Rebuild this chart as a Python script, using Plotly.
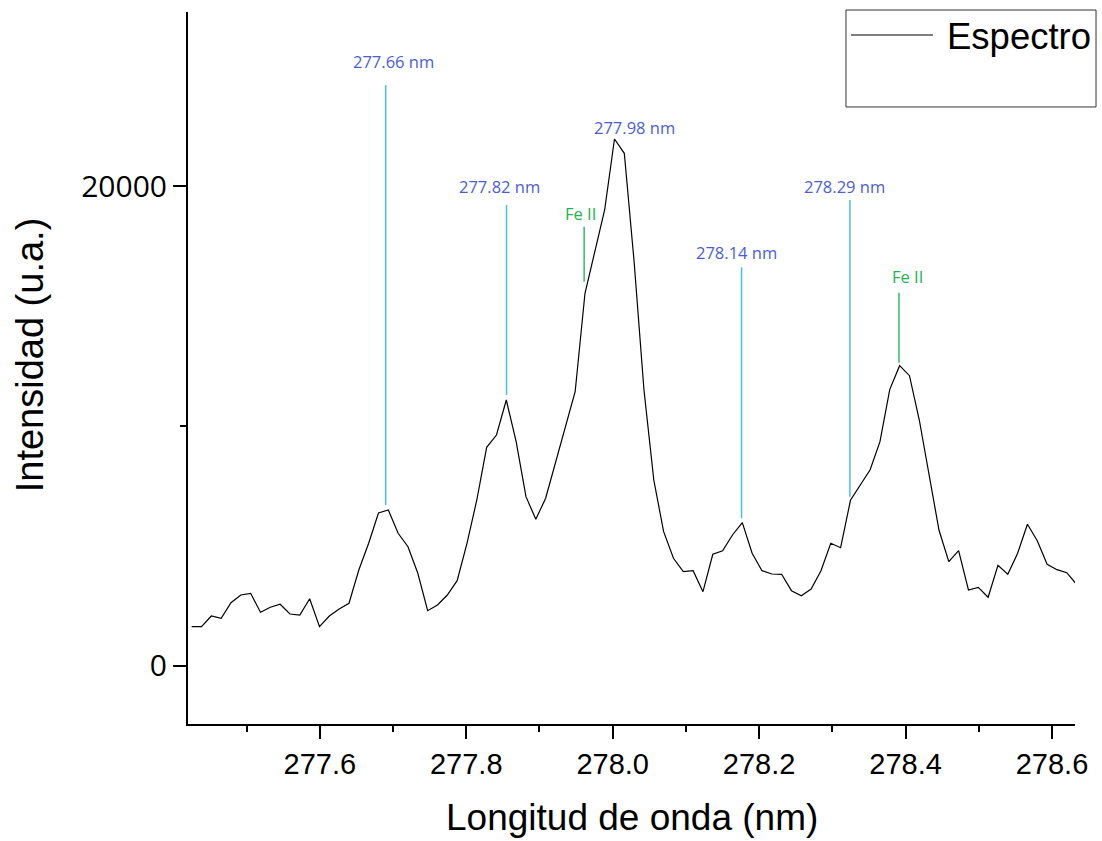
import numpy as np
import plotly.graph_objects as go

# Spectrum samples (uniform wavelength grid of the spectrometer)
wl_start = 277.425
wl_step = 0.013429
intensity = [
    1637, 1637, 2083, 1988, 2638, 2958, 3029, 2238, 2446, 2571,
    2167, 2125, 2804, 1637, 2083, 2375, 2613, 4000, 5113, 6375,
    6500, 5529, 4971, 3863, 2304, 2542, 2958, 3554, 5113, 6917,
    9113, 9625, 11083, 9346, 7054, 6113, 6988, 8446, 9917, 11429,
    15529, 17263, 19000, 21958, 21363, 16833, 11500, 7750, 5596, 4488,
    3929, 3971, 3096, 4654, 4804, 5458, 5971, 4696, 3971, 3833,
    3821, 3138, 2929, 3208, 3971, 5113, 4929, 6904, 7529, 8179,
    9346, 11529, 12513, 12096, 10250, 8029, 5667, 4346, 4804, 3167,
    3279, 2863, 4196, 3821, 4696, 5904, 5221, 4238, 4013, 3888,
    3400,
]
wavelength = np.round(wl_start + wl_step * np.arange(len(intensity)), 5)

# Identified lines: marker position, vertical extent, label text and label anchor
line_x = [277.690, 277.855, 277.961, 278.176, 278.324, 278.391]
line_top = [24208, 19208, 18304, 16613, 19417, 15554]
line_bottom = [6708, 11292, 16013, 6154, 7054, 12638]
line_kind = ["nm", "nm", "fe", "nm", "nm", "fe"]

label_text = ["277.66 nm", "277.82 nm", "277.98 nm", "Fe II", "278.14 nm", "278.29 nm", "Fe II"]
label_x = [277.700, 277.846, 278.030, 277.956, 278.169, 278.317, 278.403]
label_y = [25179, 20000, 22458, 18875, 17221, 20000, 16221]
label_kind = ["nm", "nm", "nm", "fe", "nm", "nm", "fe"]

x_ticks = [277.6, 277.8, 278.0, 278.2, 278.4, 278.6]
y_ticks = [0, 20000]

LINE_COLORS = {"nm": "#45C0EC", "fe": "#2EBE6A"}
TEXT_COLORS = {"nm": "#4A5ED4", "fe": "#1FB452"}

fig = go.Figure()
fig.add_trace(go.Scatter(
    x=wavelength, y=intensity, mode="lines", name="Espectro",
    line=dict(color="black", width=1.2), showlegend=False,
))

shapes = []
for x, y0, y1, k in zip(line_x, line_bottom, line_top, line_kind):
    shapes.append(dict(type="line", xref="x", yref="y", x0=x, x1=x, y0=y0, y1=y1,
                       line=dict(color=LINE_COLORS[k], width=1.5)))

# Legend box drawn in paper coordinates
shapes.append(dict(type="rect", xref="paper", yref="paper", x0=0.7418, x1=1.0237,
                   y0=0.8666, y1=1.0028, line=dict(color="#333333", width=1),
                   fillcolor="rgba(0,0,0,0)"))
shapes.append(dict(type="line", xref="paper", yref="paper", x0=0.7475, x1=0.8399,
                   y0=0.9677, y1=0.9677, line=dict(color="black", width=1.2)))

annotations = []
for t, x, y, k in zip(label_text, label_x, label_y, label_kind):
    annotations.append(dict(text=t, x=x, y=y, xref="x", yref="y", showarrow=False,
                            xanchor="center", yanchor="middle",
                            font=dict(family="Open Sans", size=16.5, color=TEXT_COLORS[k])))
annotations.append(dict(text="Espectro", x=0.8534, y=0.9649, xref="paper", yref="paper",
                        showarrow=False, xanchor="left", yanchor="middle",
                        font=dict(family="Liberation Sans, Arial", size=36.5, color="black")))
annotations.append(dict(text="Longitud de onda (nm)", x=0.5006, y=-0.132, xref="paper",
                        yref="paper", showarrow=False, xanchor="center", yanchor="middle",
                        font=dict(family="Liberation Sans, Arial", size=37, color="black")))
annotations.append(dict(text="Intensidad (u.a.)", x=-0.178, y=0.518, xref="paper",
                        yref="paper", showarrow=False, xanchor="center", yanchor="middle",
                        textangle=-90,
                        font=dict(family="Liberation Sans, Arial", size=38, color="black")))

fig.update_layout(
    width=1102, height=841,
    margin=dict(l=188, r=27, t=12, b=117),
    paper_bgcolor="white", plot_bgcolor="white",
    shapes=shapes, annotations=annotations,
    xaxis=dict(
        range=[277.42, 278.6314], tickvals=x_ticks,
        ticktext=[f"{v:.1f}" for v in x_ticks],
        ticks="outside", ticklen=13, tickwidth=2, tickcolor="black",
        minor=dict(tickvals=[277.5, 277.7, 277.9, 278.1, 278.3, 278.5],
                   ticks="outside", ticklen=6, tickwidth=2, tickcolor="black"),
        showline=True, linecolor="black", linewidth=2, mirror=False,
        showgrid=False, zeroline=False,
        tickfont=dict(family="Liberation Sans, Arial", size=29, color="black"),
    ),
    yaxis=dict(
        range=[-2417, 27250], tickvals=y_ticks, ticktext=["0", "20000"],
        ticks="outside", ticklen=13, tickwidth=2, tickcolor="black",
        minor=dict(tickvals=[10000], ticks="outside", ticklen=6, tickwidth=2,
                   tickcolor="black"),
        showline=True, linecolor="black", linewidth=2, mirror=False,
        showgrid=False, zeroline=False,
        tickfont=dict(family="Open Sans", size=30, color="black"),
    ),
)

fig.write_html("out.html")
